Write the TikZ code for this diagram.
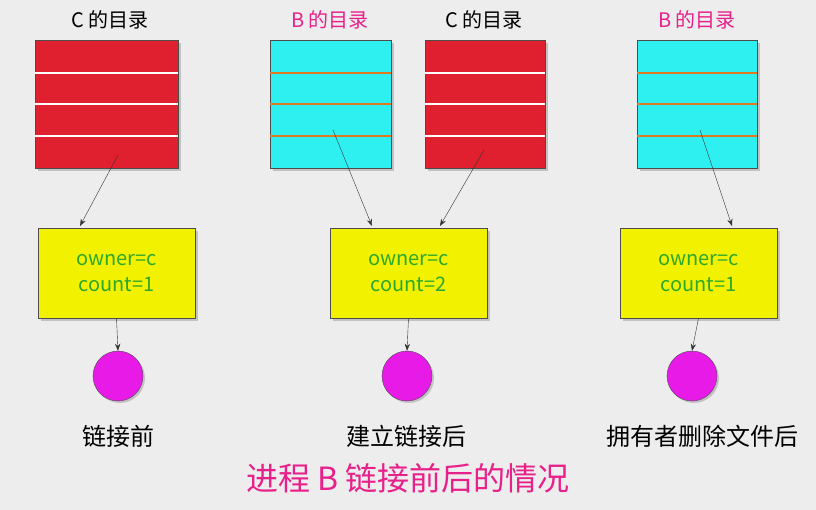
\documentclass[tikz,border=0pt]{standalone}
\usepackage{fontspec}
\setmainfont{Noto Sans CJK SC}
\usetikzlibrary{arrows.meta,shadows}
\definecolor{dred}{HTML}{E0202E}
\definecolor{dcyan}{HTML}{2EF0F0}
\definecolor{ylw}{HTML}{F2F200}
\definecolor{pk}{HTML}{E8208A}
\definecolor{grn}{HTML}{2DA82D}
\definecolor{mag}{HTML}{E81AE8}
\definecolor{orl}{HTML}{E07A20}
\tikzset{
 dirbox/.style={draw=black!70,minimum width=#1pt,minimum height=128pt,inner sep=0,drop shadow={shadow xshift=3pt,shadow yshift=-3pt,fill=black!40}},
 inode/.style={draw=black!70,fill=ylw,minimum width=157pt,minimum height=90pt,align=center,text=grn,font=\fontsize{20}{26}\selectfont,drop shadow={shadow xshift=3pt,shadow yshift=-3pt,fill=black!40}},
 ball/.style={circle,draw=black!70,fill=mag,minimum size=50pt,inner sep=0,drop shadow={shadow xshift=2pt,shadow yshift=-2pt,fill=black!40}},
 ttl/.style={font=\fontsize{20}{24}\selectfont},
 lbl/.style={font=\fontsize{24}{28}\selectfont},
 arr/.style={-{Stealth[length=7pt]},draw=black!80,thin},
 wline/.style={draw=white,line width=1.6pt},
 oline/.style={draw=orl,line width=1.6pt}
}
\begin{document}
\begin{tikzpicture}[x=1pt,y=-1pt]
\fill[black!7] (0,0) rectangle (816,510);
\useasboundingbox (0,0) rectangle (816,510);
% directories
\node[dirbox=143,fill=dred] (d1) at (106.5,104) {};
\node[dirbox=121,fill=dcyan] (d2) at (330.5,104) {};
\node[dirbox=120,fill=dred] (d3) at (485,104) {};
\node[dirbox=120,fill=dcyan] (d4) at (697,104) {};
\foreach \yy in {33,64,96}{
  \draw[wline] ([yshift=-\yy pt]d1.north west) -- ([yshift=-\yy pt]d1.north east);
  \draw[oline] ([yshift=-\yy pt]d2.north west) -- ([yshift=-\yy pt]d2.north east);
  \draw[wline] ([yshift=-\yy pt]d3.north west) -- ([yshift=-\yy pt]d3.north east);
  \draw[oline] ([yshift=-\yy pt]d4.north west) -- ([yshift=-\yy pt]d4.north east);
}
\node[ttl] (t1) at (110,20) {C 的目录};
\node[ttl,text=pk] (t2) at (330,20) {B 的目录};
\node[ttl] (t3) at (484,20) {C 的目录};
\node[ttl,text=pk] (t4) at (697,20) {B 的目录};
% inodes
\node[inode] (i1) at (116.5,273) {owner=c\\ count=1};
\node[inode] (i2) at (408.5,273) {owner=c\\ count=2};
\node[inode] (i3) at (698.5,273) {owner=c\\ count=1};
\coordinate (s1) at (118,155);
\coordinate (s2) at (333,130);
\coordinate (s3) at (484,150);
\coordinate (s4) at (700,130);
\draw[arr] (s1) -- (80,226);
\draw[arr] (s2) -- (372,226);
\draw[arr] (s3) -- (440,226);
\draw[arr] (s4) -- (732,226);
% balls
\node[ball] (b1) at (118,376) {};
\node[ball] (b2) at (407,376) {};
\node[ball] (b3) at (692,376) {};
\draw[arr] (i1.south) -- (b1.north);
\draw[arr] (i2.south) -- (b2.north);
\draw[arr] (i3.south) -- (b3.north);
\node[lbl] (l1) at (118,436) {链接前};
\node[lbl] (l2) at (406,436) {建立链接后};
\node[lbl] (l3) at (702,436) {拥有者删除文件后};
\node[font=\fontsize{32}{36}\selectfont,text=pk] (cap) at (408,478) {进程 B 链接前后的情况};
\end{tikzpicture}
\end{document}
